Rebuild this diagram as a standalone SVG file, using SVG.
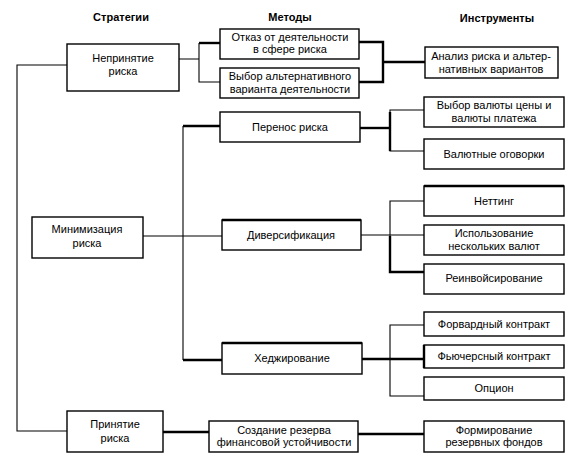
<svg xmlns="http://www.w3.org/2000/svg" width="583" height="466" viewBox="0 0 583 466">
<style>
.b{fill:#fff;stroke:#000;stroke-width:1.4}
.t{font-family:"Liberation Sans",Arial,sans-serif;font-size:11px;fill:#000;text-anchor:middle}
.h{font-family:"Liberation Sans",Arial,sans-serif;font-size:11px;font-weight:bold;fill:#000;text-anchor:middle}
.c{fill:none;stroke:#000;stroke-width:1.1}
.k{fill:none;stroke:#000;stroke-width:2.4}
</style>
<rect width="583" height="466" fill="#fff"/>
<g id="headers">
<text class="h" x="121" y="21">Стратегии</text>
<text class="h" x="290" y="21">Методы</text>
<text class="h" x="497" y="22">Инструменты</text>
</g>
<g id="connectors">
<path class="c" d="M67,65 H17 V431 H67"/>
<path class="c" d="M179,59 H199 V43 M199,43 V82 H220"/>
<path class="k" d="M199,43 H220"/>
<path class="k" d="M359,42 H383 V82 H359 M383,62 H425"/>
<path class="c" d="M143,236 H222"/>
<path class="c" d="M183,126 V360"/>
<path class="k" d="M183,126 H220 M183,360 H222"/>
<path class="k" d="M360,128 H390"/>
<path class="c" d="M424,110 H390 V151 H424"/>
<path class="k" d="M390,112 V151"/>
<path class="c" d="M361,235 H424 M424,201 H390 V236"/>
<path class="k" d="M390,236 V272 H424"/>
<path class="k" d="M362,359 H424"/>
<path class="c" d="M424,325 H390 V396 H424"/>
<path class="k" d="M163,432 H209 M358,434 H424"/>
</g>
<g id="n1"><rect class="b" x="67" y="44" width="112" height="47"/><text class="t" x="123" y="62">Непринятие</text><text class="t" x="123" y="75">риска</text></g>
<g id="n2"><rect class="b" x="32" y="217" width="111" height="41"/><text class="t" x="87" y="233">Минимизация</text><text class="t" x="87" y="247">риска</text></g>
<g id="n3"><rect class="b" x="67" y="411" width="96" height="41"/><text class="t" x="115" y="428">Принятие</text><text class="t" x="115" y="442">риска</text></g>
<g id="m1"><rect class="b" x="220" y="29" width="139" height="30"/><text class="t" x="290" y="41">Отказ от деятельности</text><text class="t" x="290" y="53">в сфере риска</text></g>
<g id="m2"><rect class="b" x="220" y="68" width="139" height="30"/><text class="t" x="290" y="80">Выбор альтернативного</text><text class="t" x="290" y="93">варианта деятельности</text></g>
<g id="m3"><rect class="b" x="220" y="112" width="140" height="30"/><text class="t" x="290" y="131">Перенос риска</text></g>
<g id="m4"><rect class="b" x="222" y="220" width="139" height="30"/><path class="k" d="M222,220 H361"/><text class="t" x="291" y="239">Диверсификация</text></g>
<g id="m5"><rect class="b" x="222" y="343" width="140" height="31"/><path class="k" d="M222,343 H362"/><text class="t" x="292" y="362">Хеджирование</text></g>
<g id="m6"><rect class="b" x="209" y="421" width="149" height="31"/><text class="t" x="284" y="434">Создание резерва</text><text class="t" x="284" y="446">финансовой устойчивости</text></g>
<g id="i1"><rect class="b" x="425" y="47" width="133" height="31"/><text class="t" x="491" y="60">Анализ риска и альтер-</text><text class="t" x="491" y="73">нативных вариантов</text></g>
<g id="i2"><rect class="b" x="424" y="97" width="140" height="30"/><text class="t" x="494" y="109">Выбор валюты цены и</text><text class="t" x="494" y="122">валюты платежа</text></g>
<g id="i3"><rect class="b" x="424" y="139" width="140" height="30"/><text class="t" x="494" y="158">Валютные оговорки</text></g>
<g id="i4"><rect class="b" x="424" y="186" width="140" height="30"/><path class="k" d="M424,186 H564"/><text class="t" x="494" y="205">Неттинг</text></g>
<g id="i5"><rect class="b" x="424" y="225" width="140" height="30"/><text class="t" x="494" y="237">Использование</text><text class="t" x="494" y="250">нескольких валют</text></g>
<g id="i6"><rect class="b" x="424" y="264" width="140" height="30"/><text class="t" x="494" y="282">Реинвойсирование</text></g>
<g id="i7"><rect class="b" x="424" y="312" width="140" height="24"/><text class="t" x="494" y="328">Форвардный контракт</text></g>
<g id="i8"><rect class="b" x="424" y="345" width="140" height="23"/><path class="k" d="M424,345 V368"/><text class="t" x="494" y="360">Фьючерсный контракт</text></g>
<g id="i9"><rect class="b" x="424" y="377" width="140" height="23"/><text class="t" x="494" y="392">Опцион</text></g>
<g id="i10"><rect class="b" x="424" y="421" width="140" height="31"/><text class="t" x="494" y="434">Формирование</text><text class="t" x="494" y="446">резервных фондов</text></g>
</svg>
